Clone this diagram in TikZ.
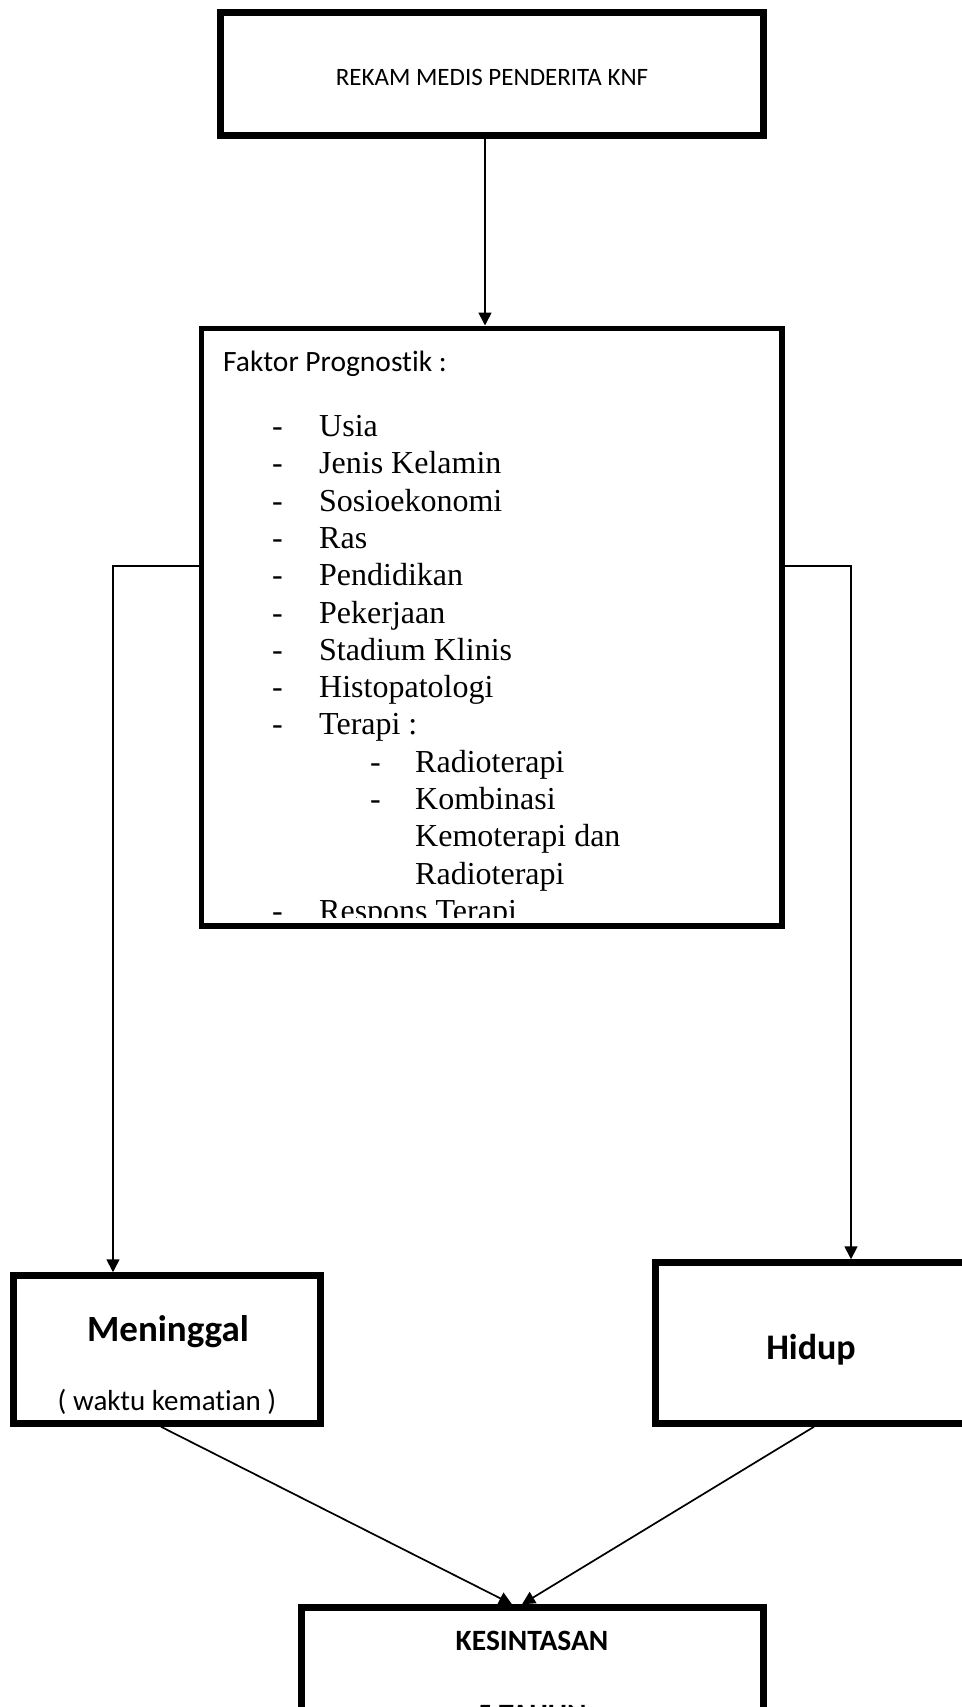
\documentclass[tikz,border=0pt]{standalone}
\usepackage{fontspec}
\setmainfont{Liberation Serif}
\newfontfamily\calibri[Ligatures=NoCommon]{Carlito}
\usetikzlibrary{arrows.meta}
\begin{document}
\begin{tikzpicture}[x=1pt, y=-1pt,
    box/.style={draw, line width=6.5pt, rectangle, inner sep=0pt},
    link/.style={line width=1.7pt, -{Triangle[width=13pt, length=13pt]}},
    lbl/.style={inner sep=0pt, anchor=base west},
    item/.style={lbl, font=\fontsize{32}{37}\selectfont}]
    \useasboundingbox (0,0) rectangle (961,1707);

    % Boxes
    \node[box, line width=7pt, minimum width=542.5pt, minimum height=122.5pt] (rekam) at (492,74) {};
    \node[box, line width=5.5pt, minimum width=580.5pt, minimum height=597.5pt] (faktor) at (491.5,627) {};
    \node[box, minimum width=307pt, minimum height=148pt] (meninggal) at (167,1349.5) {};
    \node[box, minimum width=313.5pt, minimum height=161pt] (hidup) at (812.25,1343) {};
    \node[box, minimum width=462pt, minimum height=192.5pt] (kesintasan) at (532.5,1703.75) {};

    % Factor list
    \begin{scope}
        \clip (204,331) rectangle (779,917);
        \node[lbl, font=\calibri\fontsize{29.5}{35}\selectfont] (judul) at (223,371) {Faktor Prognostik :};
        \foreach \k/\txt in {0/Usia, 1/Jenis Kelamin, 2/Sosioekonomi, 3/Ras, 4/Pendidikan,
                             5/Pekerjaan, 6/Stadium Klinis, 7/Histopatologi, 8/Terapi :, 13/Respons Terapi} {
            \node[item] (dash\k) at (272,{436.5+37.3*\k}) {-};
            \node[item] (item\k) at (319,{436.5+37.3*\k}) {\txt};
        }
        \foreach \k/\txt in {9/Radioterapi, 10/Kombinasi} {
            \node[item] (dash\k) at (370,{436.5+37.3*\k}) {-};
        }
        \foreach \k/\txt in {9/Radioterapi, 10/Kombinasi, 11/Kemoterapi dan, 12/Radioterapi} {
            \node[item] (item\k) at (415,{436.5+37.3*\k}) {\txt};
        }
    \end{scope}

    % Labels
    \node[inner sep=0pt, anchor=base, font=\calibri\fontsize{25}{30}\selectfont] (rekamteks) at (492,86) {REKAM MEDIS PENDERITA KNF};
    \node[inner sep=0pt, anchor=base, font=\calibri\bfseries\fontsize{37}{44}\selectfont] (mati) at (168,1341) {Meninggal};
    \node[inner sep=0pt, anchor=base, font=\calibri\fontsize{29}{35}\selectfont] (waktu) at (167,1410) {( waktu kematian )};
    \node[inner sep=0pt, anchor=base, font=\calibri\bfseries\fontsize{36}{43}\selectfont] (hidupteks) at (811,1359) {Hidup};
    \node[inner sep=0pt, anchor=base, font=\calibri\bfseries\fontsize{29.5}{35}\selectfont] (judulakhir) at (532,1650) {KESINTASAN};
    \node[inner sep=0pt, anchor=base, font=\calibri\bfseries\fontsize{29.5}{35}\selectfont] (tahun) at (532,1724.5) {5 TAHUN};

    % Connectors
    \draw[link] ([xshift=-7pt]rekam.south) -- ([xshift=-6.5pt]faktor.north);
    \draw[link] ([yshift=61pt]faktor.west) -| ([xshift=-54pt]meninggal.north);
    \draw[link] ([yshift=61pt]faktor.east) -| ([xshift=38.75pt]hidup.north);
    \draw[link] ([xshift=-6pt]meninggal.south) -- ([xshift=-20.5pt]kesintasan.north);
    \draw[link] ([xshift=1.75pt]hidup.south) -- ([xshift=-10.5pt]kesintasan.north);
\end{tikzpicture}
\end{document}
